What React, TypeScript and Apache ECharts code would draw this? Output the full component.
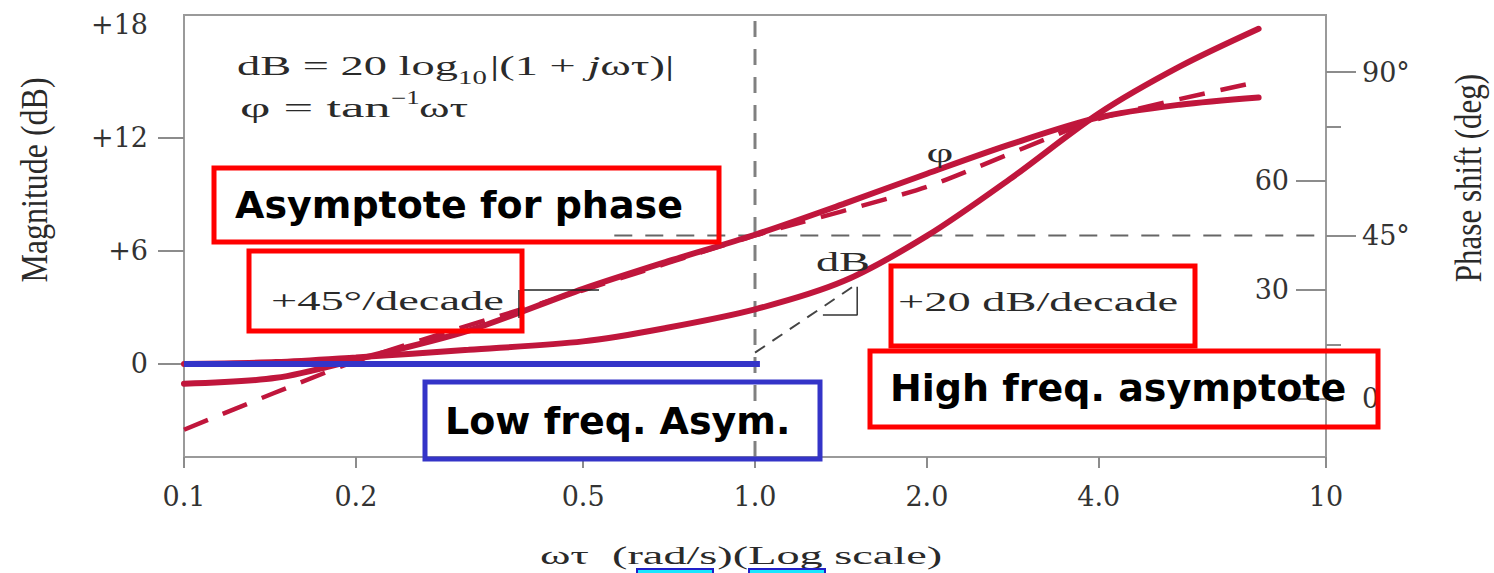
import React, { useEffect, useRef } from "react";
import * as echarts from "echarts";

// ---- axis ticks / labels ----
const xTickValues = [0.1, 0.2, 0.5, 1.0, 2.0, 4.0, 10];
const xTickLabels = ["0.1", "0.2", "0.5", "1.0", "2.0", "4.0", "10"];

const magLabelValues = [0, 6, 12, 18];
const magLabelTexts = ["0", "+6", "+12", "+18"];
const magTickValues = [0, 6, 12];

const phaseOuterLabelValues = [0, 45, 90];
const phaseOuterTexts = ["0", "45°", "90°"];
const phaseOuterTickValues = [45, 90];
const phaseMinorValues = [15, 75];
const phaseInnerTickValues = [0, 30, 60];
const phaseInnerLabelValues = [30, 60];
const phaseInnerTexts = ["30", "60"];

// ---- data ----
const omegaTau = [0.1, 0.145, 0.2, 0.315, 0.5, 0.695, 1.0, 1.43, 2.0, 2.79, 4.0, 5.55, 7.62];
const magnitudeDb = [0.0, 0.1, 0.35, 0.75, 1.2, 1.9, 2.9, 4.4, 6.8, 9.8, 13.3, 15.8, 17.8];
const phaseDeg = [4.2, 5.8, 10.8, 18.8, 30.3, 37.6, 45.2, 53.7, 62.0, 70.0, 77.5, 81.0, 83.0];

const phaseAsymW = [0.1, 0.2, 0.5, 1.0, 2.0, 4.0, 7.62];
const phaseAsymDeg = [-8.5, 10.4, 29.9, 45.0, 58.4, 77.1, 87.3];

const lowFreqAsymW = [0.1, 1.02];
const lowFreqAsymDb = [0, 0];

const highFreqAsymW = [1.0, 1.5];
const highFreqAsymDb = [0.6, 4.2];

const slopeMarkW = [1.315, 1.51, 1.51];
const slopeMarkDb = [2.6, 2.6, 4.1];

const phase45W = [0.567, 10];
const phase45Deg = [45, 45];

const MAG_MIN = -4.94;
const MAG_MAX = 18.53;
const PH_MIN = -16;
const PH_MAX = 105.7;

const cornerW = [1, 1];
const cornerDb = [MAG_MIN, MAG_MAX];

const CRIMSON = "#c0163c";
const RED = "#ff0000";
const BLUE = "#3434c8";
const FRAME = "#9a9a9a";
const TXT = "#2a2a2a";
const SERIF = "Liberation Serif, Times New Roman, serif";
const WSERIF = "DejaVu Serif, serif";
const SANS = "DejaVu Sans, sans-serif";

const pairs = (xs: number[], ys: number[]) => xs.map((x, i) => [x, ys[i]]);

const nearestLabel = (vals: number[], texts: string[]) => (v: number) => {
  const i = vals.findIndex((p) => Math.abs(p - v) < 1e-6);
  return i >= 0 ? texts[i] : "";
};

export default function App() {
  const ref = useRef<HTMLDivElement>(null);

  useEffect(() => {
    if (!ref.current) return;
    const chart = echarts.init(ref.current, undefined, { renderer: "svg" });
    const xPos = xTickValues.map((v) => Math.log10(v));

    const tickLine = { color: "#8c8c8c", width: 2 };
    const labelFont = { fontFamily: WSERIF, fontSize: 27, color: "#333" };
    const noLine = { show: false, onZero: false };

    const serifText = (text: string, x: number, y: number, opts: any = {}) => ({
      type: "text",
      x,
      y,
      scaleX: opts.scaleX ?? 1.72,
      scaleY: opts.scaleY ?? 1,
      rotation: opts.rotation ?? 0,
      z: 100,
      style: {
        text,
        fontFamily: SERIF,
        fontSize: opts.fontSize ?? 27,
        fontStyle: opts.fontStyle ?? "normal",
        fill: TXT,
        align: opts.align ?? "left",
        verticalAlign: "middle",
      },
    });

    const boldText = (text: string, x: number, y: number) => ({
      type: "text",
      x,
      y,
      z: 100,
      style: {
        text,
        fontFamily: SANS,
        fontWeight: "bold",
        fontSize: 38,
        fill: "#000",
        align: "left",
        verticalAlign: "middle",
      },
    });

    const box = (x: number, y: number, w: number, h: number, color: string) => ({
      type: "rect",
      z: 100,
      shape: { x, y, width: w, height: h },
      style: { fill: "transparent", stroke: color, lineWidth: 5 },
    });

    const curve = (name: string, xs: number[], ys: number[], yIdx: number, lineStyle: any, z: number, smooth: any = false) => ({
      name,
      type: "line",
      xAxisIndex: 0,
      yAxisIndex: yIdx,
      data: pairs(xs, ys),
      smooth,
      symbol: "none",
      silent: true,
      lineStyle,
      z,
    });

    const option: any = {
      animation: false,
      backgroundColor: "#ffffff",
      grid: {
        left: 184,
        right: 168,
        top: 15,
        bottom: 116,
        show: true,
        borderColor: FRAME,
        borderWidth: 2,
        backgroundColor: "transparent",
      },
      xAxis: [
        {
          type: "log",
          logBase: 10,
          min: 0.1,
          max: 10,
          position: "bottom",
          show: false,
          axisLine: noLine,
        },
        {
          type: "value",
          min: -1,
          max: 1,
          position: "bottom",
          axisLine: noLine,
          splitLine: { show: false },
          axisTick: { show: true, customValues: xPos, length: 11, lineStyle: tickLine },
          axisLabel: {
            customValues: xPos,
            formatter: nearestLabel(xPos, xTickLabels),
            margin: 26,
            ...labelFont,
          },
        },
      ],
      yAxis: [
        {
          type: "value",
          position: "left",
          min: MAG_MIN,
          max: MAG_MAX,
          axisLine: noLine,
          splitLine: { show: false },
          axisTick: { show: true, customValues: magTickValues, length: 26, lineStyle: tickLine },
          axisLabel: {
            customValues: magLabelValues,
            formatter: nearestLabel(magLabelValues, magLabelTexts),
            margin: 36,
            ...labelFont,
          },
        },
        {
          type: "value",
          position: "right",
          min: PH_MIN,
          max: PH_MAX,
          axisLine: noLine,
          splitLine: { show: false },
          axisTick: { show: true, customValues: phaseOuterTickValues, length: 30, lineStyle: tickLine },
          axisLabel: {
            customValues: phaseOuterLabelValues,
            formatter: nearestLabel(phaseOuterLabelValues, phaseOuterTexts),
            margin: 36,
            ...labelFont,
          },
        },
        {
          type: "value",
          position: "right",
          min: PH_MIN,
          max: PH_MAX,
          axisLine: noLine,
          splitLine: { show: false },
          axisTick: { show: true, customValues: phaseMinorValues, length: 15, lineStyle: tickLine },
          axisLabel: { show: false },
        },
        {
          type: "value",
          position: "right",
          min: PH_MIN,
          max: PH_MAX,
          axisLine: noLine,
          splitLine: { show: false },
          axisTick: {
            show: true,
            inside: true,
            customValues: phaseInnerTickValues,
            length: 30,
            lineStyle: tickLine,
          },
          axisLabel: {
            inside: true,
            customValues: phaseInnerLabelValues,
            formatter: nearestLabel(phaseInnerLabelValues, phaseInnerTexts),
            margin: 37,
            ...labelFont,
          },
        },
      ],
      series: [
        curve("Corner frequency", cornerW, cornerDb, 0, { color: "#808080", width: 3, type: [16, 12] }, 1),
        curve("45 deg", phase45W, phase45Deg, 1, { color: "#666666", width: 2, type: [18, 13] }, 1),
        curve("High freq asymptote", highFreqAsymW, highFreqAsymDb, 0, { color: "#444444", width: 2, type: [12, 9] }, 2),
        curve("Slope marker", slopeMarkW, slopeMarkDb, 0, { color: "#333333", width: 1.5 }, 2),
        curve("Phase asymptote", phaseAsymW, phaseAsymDeg, 1, { color: CRIMSON, width: 4.5, type: [26, 16] }, 3, 0.2),
        curve("Magnitude (dB)", omegaTau, magnitudeDb, 0, { color: CRIMSON, width: 6, cap: "round" }, 4, 0.3),
        curve("Phase (deg)", omegaTau, phaseDeg, 1, { color: CRIMSON, width: 6, cap: "round" }, 4, 0.3),
        curve("Low freq asymptote", lowFreqAsymW, lowFreqAsymDb, 0, { color: BLUE, width: 6 }, 6),
      ],
      graphic: [
        // equations
        serifText("dB = 20 log", 237, 66),
        serifText("10", 458, 78, { fontSize: 18, scaleX: 1.6 }),
        {
          type: "text",
          x: 490,
          y: 66,
          scaleX: 1.72,
          z: 100,
          style: {
            text: "{n||(1 + }{i|j}{n|ωτ)|}",
            fontFamily: SERIF,
            fontSize: 27,
            fill: TXT,
            align: "left",
            verticalAlign: "middle",
            rich: {
              n: { fontFamily: SERIF, fontSize: 27, fill: TXT },
              i: { fontFamily: SERIF, fontSize: 27, fill: TXT, fontStyle: "italic" },
            },
          },
        },
        serifText("φ = tan", 240, 108, { scaleX: 1.95 }),
        serifText("−1", 391, 98, { fontSize: 18, scaleX: 1.5 }),
        serifText("ωτ", 419, 108),
        // curve labels
        serifText("φ", 940, 153, { align: "center" }),
        serifText("dB", 843, 262, { align: "center" }),
        serifText("+45°/decade", 271, 301),
        serifText("+20 dB/decade", 898, 302),
        // +45°/decade slope marker
        {
          type: "line",
          z: 100,
          shape: { x1: 523, y1: 290, x2: 599, y2: 290 },
          style: { stroke: "#222", lineWidth: 1.5 },
        },
        {
          type: "line",
          z: 100,
          shape: { x1: 519, y1: 290, x2: 519, y2: 318 },
          style: { stroke: "#222", lineWidth: 1.5 },
        },
        // axis names
        serifText("Magnitude (dB)", 35, 180, {
          align: "center",
          rotation: Math.PI / 2,
          fontSize: 32,
          scaleX: 1,
          scaleY: 1.2,
        }),
        serifText("Phase shift (deg)", 1468, 178, {
          align: "center",
          rotation: Math.PI / 2,
          fontSize: 31,
          scaleX: 1,
          scaleY: 1.2,
        }),
        serifText("ωτ  (rad/s)(Log scale)", 741, 555, { align: "center", fontSize: 26, scaleX: 1.78 }),
        {
          type: "rect",
          z: 100,
          shape: { x: 637, y: 569, width: 76, height: 8 },
          style: { fill: "#19e6ff", stroke: "#2020c8", lineWidth: 2 },
        },
        {
          type: "rect",
          z: 100,
          shape: { x: 749, y: 569, width: 76, height: 8 },
          style: { fill: "#19e6ff", stroke: "#2020c8", lineWidth: 2 },
        },
        // annotation boxes
        box(214, 168, 505, 74, RED),
        boldText("Asymptote for phase", 235, 205),
        box(249, 251, 273, 80, RED),
        box(891, 266, 304, 80, RED),
        box(870, 351, 508, 76, RED),
        boldText("High freq. asymptote", 890, 388),
        box(425, 382, 395, 77, BLUE),
        boldText("Low freq. Asym.", 445, 421),
      ],
    };

    chart.setOption(option);
    return () => chart.dispose();
  }, []);

  return (
    <div
      ref={ref}
      style={{
        position: "absolute",
        left: 0,
        top: 0,
        width: 1494,
        height: 573,
        background: "#ffffff",
      }}
    />
  );
}
